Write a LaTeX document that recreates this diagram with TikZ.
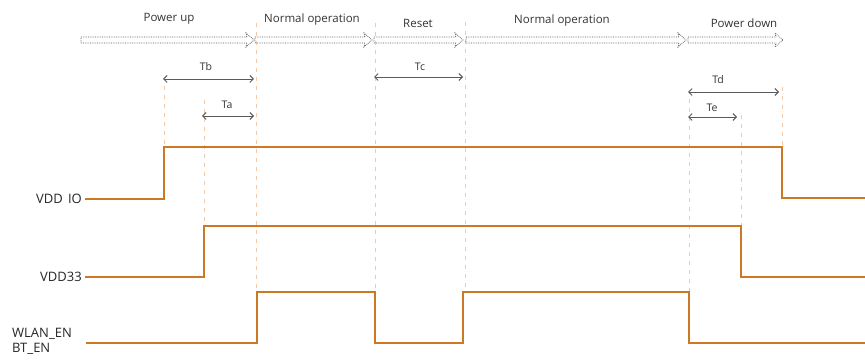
\documentclass[tikz,border=0pt]{standalone}
\usepackage{fontspec}
\setmainfont{Open Sans}
\usetikzlibrary{arrows.meta}
\definecolor{sigc}{RGB}{204,120,36}
\definecolor{guidec}{RGB}{244,200,165}
\definecolor{grayc}{RGB}{90,90,90}
\newcommand\phasearrow[2]{%
  \draw[phase] (#1,37) -- ({#2-7},37) -- ({#2-8},33) -- (#2,40) -- ({#2-8},47) -- ({#2-7},43) -- (#1,43) -- cycle;}
\begin{document}
\begin{tikzpicture}[x=1pt,y=-1pt,
  sigline/.style={draw=sigc,line width=2pt,line join=miter},
  guide/.style={draw=guidec,line width=0.9pt,dash pattern=on 4pt off 5pt},
  phase/.style={draw=grayc,line width=0.75pt,densely dotted},
  dimarrow/.style={draw=grayc,line width=0.9pt,{Straight Barb[length=3.5pt,width=7pt]}-{Straight Barb[length=3.5pt,width=7pt]}},
  phaselabel/.style={font=\fontsize{11.5}{13}\selectfont,text=black!80,inner sep=0pt},
  dimlabel/.style={font=\fontsize{10.5}{12}\selectfont,text=black!80,inner sep=0pt},
  siglabel/.style={font=\fontsize{13}{15}\selectfont,text=black!85,inner sep=0pt}]
\useasboundingbox (0,0) rectangle (865,363);
% guide lines
\draw[guide] (164,86) -- (164,146);
\draw[guide] (204,100) -- (204,226);
\draw[guide] (256,23) -- (256,292);
\draw[guide] (375,23) -- (375,292);
\draw[guide] (465,22) -- (465,292);
\draw[guide] (689,90) -- (689,292);
\draw[guide] (741,115) -- (741,226);
\draw[guide] (782,87) -- (782,147);
% phase arrows
\phasearrow{81}{254}
\phasearrow{255}{372}
\phasearrow{374}{463}
\phasearrow{466}{686}
\phasearrow{688}{783}
\node[phaselabel] (pu) at (169,19) {Power up};
\node[phaselabel] (no1) at (312,20) {Normal operation};
\node[phaselabel] (rs) at (418,23) {Reset};
\node[phaselabel] (no2) at (562,21) {Normal operation};
\node[phaselabel] (pd) at (744,23) {Power down};
% dimension arrows
\coordinate (tb1) at (163,79); \coordinate (tb2) at (254,79);
\coordinate (ta1) at (202,116); \coordinate (ta2) at (254,116);
\coordinate (tc1) at (374,77); \coordinate (tc2) at (463,77);
\coordinate (td1) at (688,92); \coordinate (td2) at (779,92);
\coordinate (te1) at (688,117); \coordinate (te2) at (737,117);
\draw[dimarrow] (tb1) -- (tb2);
\draw[dimarrow] (ta1) -- (ta2);
\draw[dimarrow] (tc1) -- (tc2);
\draw[dimarrow] (td1) -- (td2);
\draw[dimarrow] (te1) -- (te2);
\node[dimlabel] (ltb) at (206,67) {Tb};
\node[dimlabel] (lta) at (227,105) {Ta};
\node[dimlabel] (ltc) at (420,67) {Tc};
\node[dimlabel] (ltd) at (718,80) {Td};
\node[dimlabel] (lte) at (712,108) {Te};
% signals
\node[siglabel,anchor=east] (vddio) at (82,199) {VDD\hspace{0.4em}IO};
\node[siglabel,anchor=east] (vdd33) at (82,277) {VDD33};
\node[siglabel,anchor=west] (wlan) at (12,334) {WLAN\_EN};
\node[siglabel,anchor=west] (bten) at (12,349) {BT\_EN};
\draw[sigline] (vddio.east) ++(3,0) -- (164,199) -- (164,147) -- (782,147) -- (782,198) -- (865,198);
\draw[sigline] (vdd33.east) ++(3,0) -- (204,277) -- (204,226) -- (741,226) -- (741,277) -- (865,277);
\draw[sigline] (86,343) -- (257,343) -- (257,292) -- (375,292) -- (375,343) -- (463,343) -- (463,292) -- (689,292) -- (689,343) -- (865,343);
\end{tikzpicture}
\end{document}
